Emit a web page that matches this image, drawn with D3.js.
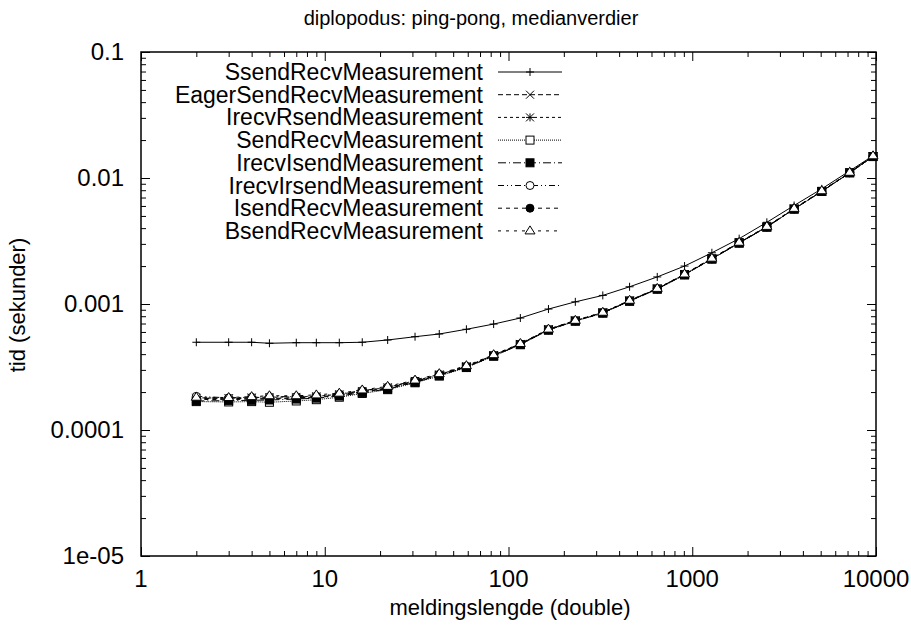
<!DOCTYPE html>
<html>
<head>
<meta charset="utf-8">
<script src="https://cdn.jsdelivr.net/npm/d3@7"></script>
<style>
  body { margin: 0; background: #fff; }
  svg text { font-family: "Liberation Sans", Arial, sans-serif; font-size: 23px; fill: #000; }
  svg text.tick { font-size: 24px; }
  svg text.title { font-size: 20px; }
  svg text.axis-title { font-size: 22px; }
</style>
</head>
<body>
<svg id="chart" width="911" height="630"></svg>
<script>
// message lengths (doubles)
var lengths = [2, 3, 4, 5, 7, 9, 12, 16, 22, 31, 42, 59, 83, 116, 165, 231, 326, 456, 645, 908, 1279, 1800, 2547, 3584, 5069, 7194, 9636]

// median times in seconds, one array per measurement
var ssendRecv = [4.97e-4, 4.97e-4, 4.97e-4, 4.88e-4, 4.93e-4, 4.93e-4, 4.93e-4, 4.97e-4, 5.18e-4, 5.50e-4, 5.78e-4, 6.30e-4, 6.93e-4, 7.74e-4, 9.12e-4, 1.04e-3, 1.17e-3, 1.37e-3, 1.64e-3, 2.00e-3, 2.55e-3, 3.30e-3, 4.45e-3, 6.05e-3, 8.20e-3, 1.14e-2, 1.50e-2]
var eagerSendRecv = [1.78e-4, 1.77e-4, 1.79e-4, 1.78e-4, 1.80e-4, 1.83e-4, 1.90e-4, 2.02e-4, 2.16e-4, 2.43e-4, 2.74e-4, 3.18e-4, 3.90e-4, 4.80e-4, 6.25e-4, 7.36e-4, 8.52e-4, 1.06e-3, 1.32e-3, 1.72e-3, 2.30e-3, 3.07e-3, 4.10e-3, 5.70e-3, 7.86e-3, 1.10e-2, 1.48e-2]
var irecvRsend = [1.80e-4, 1.79e-4, 1.81e-4, 1.82e-4, 1.83e-4, 1.85e-4, 1.92e-4, 2.04e-4, 2.18e-4, 2.45e-4, 2.76e-4, 3.20e-4, 3.92e-4, 4.82e-4, 6.28e-4, 7.38e-4, 8.55e-4, 1.06e-3, 1.32e-3, 1.72e-3, 2.29e-3, 3.06e-3, 4.10e-3, 5.69e-3, 7.85e-3, 1.10e-2, 1.49e-2]
var sendRecv = [1.68e-4, 1.67e-4, 1.68e-4, 1.66e-4, 1.70e-4, 1.74e-4, 1.82e-4, 1.95e-4, 2.09e-4, 2.37e-4, 2.68e-4, 3.13e-4, 3.85e-4, 4.75e-4, 6.20e-4, 7.30e-4, 8.46e-4, 1.05e-3, 1.31e-3, 1.70e-3, 2.27e-3, 3.04e-3, 4.07e-3, 5.66e-3, 7.82e-3, 1.10e-2, 1.48e-2]
var irecvIsend = [1.70e-4, 1.71e-4, 1.72e-4, 1.73e-4, 1.76e-4, 1.79e-4, 1.86e-4, 1.98e-4, 2.11e-4, 2.39e-4, 2.70e-4, 3.15e-4, 3.87e-4, 4.77e-4, 6.22e-4, 7.33e-4, 8.49e-4, 1.057e-3, 1.316e-3, 1.71e-3, 2.28e-3, 3.05e-3, 4.08e-3, 5.67e-3, 7.83e-3, 1.10e-2, 1.48e-2]
var irecvIrsend = [1.85e-4, 1.80e-4, 1.82e-4, 1.84e-4, 1.84e-4, 1.86e-4, 1.93e-4, 2.05e-4, 2.19e-4, 2.46e-4, 2.77e-4, 3.21e-4, 3.93e-4, 4.83e-4, 6.29e-4, 7.39e-4, 8.56e-4, 1.065e-3, 1.325e-3, 1.72e-3, 2.30e-3, 3.07e-3, 4.11e-3, 5.71e-3, 7.88e-3, 1.105e-2, 1.49e-2]
var isendRecv = [1.75e-4, 1.74e-4, 1.76e-4, 1.76e-4, 1.78e-4, 1.81e-4, 1.88e-4, 2.00e-4, 2.13e-4, 2.41e-4, 2.72e-4, 3.16e-4, 3.88e-4, 4.78e-4, 6.23e-4, 7.34e-4, 8.50e-4, 1.058e-3, 1.317e-3, 1.71e-3, 2.28e-3, 3.05e-3, 4.09e-3, 5.68e-3, 7.84e-3, 1.10e-2, 1.48e-2]
var bsendRecv = [1.82e-4, 1.81e-4, 1.84e-4, 1.87e-4, 1.87e-4, 1.90e-4, 1.96e-4, 2.08e-4, 2.22e-4, 2.49e-4, 2.80e-4, 3.24e-4, 3.96e-4, 4.86e-4, 6.32e-4, 7.42e-4, 8.60e-4, 1.07e-3, 1.33e-3, 1.73e-3, 2.31e-3, 3.09e-3, 4.13e-3, 5.74e-3, 7.92e-3, 1.11e-2, 1.50e-2]

var seriesNames = ["SsendRecvMeasurement", "EagerSendRecvMeasurement", "IrecvRsendMeasurement", "SendRecvMeasurement",
                   "IrecvIsendMeasurement", "IrecvIrsendMeasurement", "IsendRecvMeasurement", "BsendRecvMeasurement"]
var seriesValues = [ssendRecv, eagerSendRecv, irecvRsend, sendRecv, irecvIsend, irecvIrsend, isendRecv, bsendRecv]
var seriesMarkers = ["plus", "cross", "star", "box", "fbox", "circle", "fcircle", "triangle"]
var seriesDashes = [null, "5,3", "3,3", "1,1", "8,3,1,3", "6,3,1,3,1,3", "4,4", "3,5"]

var xTicks = [1, 10, 100, 1000, 10000]
var xTickLabels = ["1", "10", "100", "1000", "10000"]
var yTicks = [1e-5, 1e-4, 1e-3, 1e-2, 1e-1]
var yTickLabels = ["1e-05", "0.0001", "0.001", "0.01", "0.1"]

var title = "diplopodus: ping-pong, medianverdier"
var xTitle = "meldingslengde (double)"
var yTitle = "tid (sekunder)"

// plot box (window.top is taken, so prefix these)
var boxLeft = 141, boxRight = 876, boxTop = 52, boxBottom = 556

var svg = d3.select('#chart')

var xScale = d3.scaleLog().domain([1, 10000]).range([boxLeft, boxRight])
var yScale = d3.scaleLog().domain([1e-5, 0.1]).range([boxBottom, boxTop])

function minors(ticks) {
  var out = []
  ticks.slice(0, -1).forEach(function (t) {
    for (var k = 2; k <= 9; k++) out.push(t * k)
  })
  return out
}

// ticks point inward on all four sides, like gnuplot
function drawAxis(axis, scale, ticks, len, translate) {
  svg.append("g")
     .attr("transform", translate)
     .call(axis(scale).tickValues(ticks).tickSize(len).tickFormat(""))
     .call(g => g.select(".domain").remove())
     .call(g => g.selectAll("line").attr("stroke", "#000").attr("stroke-width", 1))
}

drawAxis(d3.axisTop, xScale, xTicks, 9, `translate(0,${boxBottom})`)
drawAxis(d3.axisTop, xScale, minors(xTicks), 5, `translate(0,${boxBottom})`)
drawAxis(d3.axisBottom, xScale, xTicks, 9, `translate(0,${boxTop})`)
drawAxis(d3.axisBottom, xScale, minors(xTicks), 5, `translate(0,${boxTop})`)
drawAxis(d3.axisRight, yScale, yTicks, 9, `translate(${boxLeft},0)`)
drawAxis(d3.axisRight, yScale, minors(yTicks), 5, `translate(${boxLeft},0)`)
drawAxis(d3.axisLeft, yScale, yTicks, 9, `translate(${boxRight},0)`)
drawAxis(d3.axisLeft, yScale, minors(yTicks), 5, `translate(${boxRight},0)`)

svg.append("rect")
   .attr("x", boxLeft).attr("y", boxTop)
   .attr("width", boxRight - boxLeft).attr("height", boxBottom - boxTop)
   .attr("fill", "none").attr("stroke", "#000").attr("stroke-width", 1.5)

// tick labels
svg.selectAll(".xlabel")
   .data(xTicks)
   .enter()
   .append("text")
   .attr("class", "tick")
   .attr("x", d => xScale(d))
   .attr("y", boxBottom + 31)
   .attr("text-anchor", "middle")
   .text((d, i) => xTickLabels[i])

svg.selectAll(".ylabel")
   .data(yTicks)
   .enter()
   .append("text")
   .attr("class", "tick")
   .attr("x", boxLeft - 17)
   .attr("y", d => yScale(d) + 8)
   .attr("text-anchor", "end")
   .text((d, i) => yTickLabels[i])

svg.append("text").attr("class", "title").attr("x", 471).attr("y", 25).attr("text-anchor", "middle").text(title)
svg.append("text").attr("class", "axis-title").attr("x", 510).attr("y", 615).attr("text-anchor", "middle").text(xTitle)
svg.append("text")
   .attr("class", "axis-title")
   .attr("transform", "translate(25,305) rotate(-90)")
   .attr("text-anchor", "middle")
   .text(yTitle)

function drawMarker(g, type, cx, cy) {
  var s = 4
  if (type == "plus" || type == "star") {
    g.append("path").attr("d", `M${cx - s},${cy}H${cx + s}M${cx},${cy - s}V${cy + s}`).attr("stroke", "#000")
  }
  if (type == "cross" || type == "star") {
    g.append("path").attr("d", `M${cx - s},${cy - s}L${cx + s},${cy + s}M${cx - s},${cy + s}L${cx + s},${cy - s}`).attr("stroke", "#000")
  }
  if (type == "box" || type == "fbox") {
    g.append("rect").attr("x", cx - s).attr("y", cy - s).attr("width", 2 * s).attr("height", 2 * s)
     .attr("fill", type == "fbox" ? "#000" : "#fff").attr("stroke", "#000")
  }
  if (type == "circle" || type == "fcircle") {
    g.append("circle").attr("cx", cx).attr("cy", cy).attr("r", s)
     .attr("fill", type == "fcircle" ? "#000" : "#fff").attr("stroke", "#000")
  }
  if (type == "triangle") {
    g.append("path").attr("d", `M${cx},${cy - s - 1}L${cx + s + 1},${cy + s - 1}L${cx - s - 1},${cy + s - 1}Z`)
     .attr("fill", "#fff").attr("stroke", "#000")
  }
}

var line = d3.line()
             .x(d => xScale(d[0]))
             .y(d => yScale(d[1]))

var legendX = 483, legendY = 72, legendStep = 22.7

seriesValues.forEach(function (vals, i) {
  var pts = lengths.map((x, j) => [x, vals[j]])
  var g = svg.append("g").attr("class", "series")

  g.append("path")
   .datum(pts)
   .attr("d", line)
   .attr("fill", "none")
   .attr("stroke", "#000")
   .attr("stroke-width", 1)
   .attr("stroke-dasharray", seriesDashes[i])

  pts.forEach(p => drawMarker(g, seriesMarkers[i], xScale(p[0]), yScale(p[1])))

  // legend entry
  var ly = legendY + i * legendStep
  svg.append("text")
     .attr("x", legendX)
     .attr("y", ly + 8)
     .attr("text-anchor", "end")
     .text(seriesNames[i])
  svg.append("line")
     .attr("x1", 498).attr("x2", 562)
     .attr("y1", ly).attr("y2", ly)
     .attr("stroke", "#000")
     .attr("stroke-dasharray", seriesDashes[i])
  drawMarker(svg.append("g"), seriesMarkers[i], 530, ly)
})
</script>
</body>
</html>
